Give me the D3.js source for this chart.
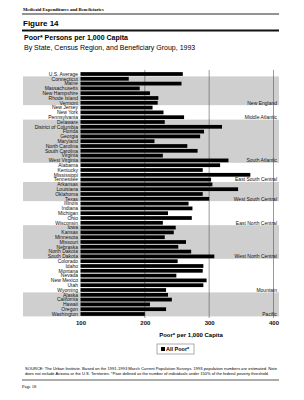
<!DOCTYPE html>
<html>
<head>
<meta charset="utf-8">
<script src="https://cdn.jsdelivr.net/npm/d3@7"></script>
<style>
    html, body { margin: 0; padding: 0; background: #fff; }
    svg { display: block; font-family: "Liberation Sans", Arial, sans-serif; }
</style>
</head>
<body>
<svg id="chart" width="304" height="400"></svg>
<script>
(function () {
    "use strict";

    // rows, top to bottom (Arizona not included)
    const states = [
        "U.S. Average",
        "Connecticut", "Maine", "Massachusetts", "New Hampshire", "Rhode Island", "Vermont",
        "New Jersey", "New York", "Pennsylvania",
        "Delaware", "District of Columbia", "Florida", "Georgia", "Maryland",
        "North Carolina", "South Carolina", "Virginia", "West Virginia",
        "Alabama", "Kentucky", "Mississippi", "Tennessee",
        "Arkansas", "Louisiana", "Oklahoma", "Texas",
        "Illinois", "Indiana", "Michigan", "Ohio", "Wisconsin",
        "Iowa", "Kansas", "Minnesota", "Missouri", "Nebraska", "North Dakota", "South Dakota",
        "Colorado", "Idaho", "Montana", "Nevada", "New Mexico", "Utah", "Wyoming",
        "Alaska", "California", "Hawaii", "Oregon", "Washington"
    ];

    // all poor, per 1,000 capita
    const allPoor = [
        259,
        175, 257, 192, 208, 221, 220,
        212, 229, 261,
        231, 320, 292, 286, 215,
        266, 282, 228, 330,
        317, 290, 364, 303,
        305, 345, 290, 300,
        268, 274, 236, 273, 228,
        248, 245, 231, 264, 252, 272, 308,
        251, 291, 290, 249, 296, 291, 233,
        236, 242, 208, 233, 200
    ];

    const regions = [
        "New England", "Middle Atlantic", "South Atlantic", "East South Central",
        "West South Central", "East North Central", "West North Central", "Mountain", "Pacific"
    ];
    const regionSizes = [6, 3, 9, 4, 4, 5, 7, 7, 5];

    const xTicks = [100, 200, 300, 400];

    const svg = d3.select("#chart");

    const xScale = d3.scaleLinear()
        .domain([100, 400])
        .range([80.5, 273.5]);

    const yScale = d3.scaleBand()
        .domain(states)
        .range([71.6, 316.4])
        .paddingInner(0.22)
        .paddingOuter(0.11);

    // header
    svg.append("text")
        .attr("x", 23)
        .attr("y", 11)
        .attr("font-family", "Liberation Serif, serif")
        .attr("font-weight", "bold")
        .attr("font-size", 4.6)
        .text("Medicaid Expenditures and Beneficiaries");

    svg.append("line")
        .attr("x1", 22).attr("x2", 279)
        .attr("y1", 14).attr("y2", 14)
        .attr("stroke", "#111")
        .attr("stroke-width", 0.9);

    svg.append("text")
        .attr("x", 23)
        .attr("y", 26)
        .attr("font-weight", "bold")
        .attr("font-size", 8)
        .text("Figure 14");

    svg.append("line")
        .attr("x1", 22).attr("x2", 279)
        .attr("y1", 30.5).attr("y2", 30.5)
        .attr("stroke", "#111")
        .attr("stroke-width", 1.8);

    svg.append("text")
        .attr("x", 24)
        .attr("y", 40)
        .attr("font-weight", "bold")
        .attr("font-size", 7)
        .text("Poor* Persons per 1,000 Capita");

    svg.append("text")
        .attr("x", 24)
        .attr("y", 49.5)
        .attr("font-size", 7)
        .text("By State, Census Region, and Beneficiary Group, 1993");

    // shaded region bands (every other region)
    let start = 1;
    const bands = regions.map(function (name, i) {
        const first = states[start];
        const last = states[start + regionSizes[i] - 1];
        start += regionSizes[i];
        return { name: name, first: first, last: last, shaded: i % 2 === 0 };
    });

    const step = yScale.step();
    const barOffset = (step - yScale.bandwidth()) / 2;

    svg.append("g")
        .selectAll("rect")
        .data(bands.filter(function (d) { return d.shaded; }))
        .join("rect")
        .attr("x", 23)
        .attr("width", 279 - 23)
        .attr("y", function (d) { return yScale(d.first) - barOffset; })
        .attr("height", function (d) { return yScale(d.last) + yScale.bandwidth() + barOffset - yScale(d.first) + barOffset; })
        .attr("fill", "#cfcfcf");

    // gridlines
    svg.append("g")
        .selectAll("line")
        .data(xTicks.slice(1))
        .join("line")
        .attr("x1", function (d) { return xScale(d); })
        .attr("x2", function (d) { return xScale(d); })
        .attr("y1", 70)
        .attr("y2", 318)
        .attr("stroke", "#555")
        .attr("stroke-width", 0.6);

    // bars
    svg.append("g")
        .selectAll("rect")
        .data(states)
        .join("rect")
        .attr("x", xScale(100))
        .attr("y", function (d) { return yScale(d); })
        .attr("width", function (d, i) { return xScale(allPoor[i]) - xScale(100); })
        .attr("height", yScale.bandwidth())
        .attr("fill", "#000");

    // state labels
    svg.append("g")
        .selectAll("text")
        .data(states)
        .join("text")
        .attr("x", 78)
        .attr("y", function (d) { return yScale(d) + yScale.bandwidth() / 2; })
        .attr("dy", "0.35em")
        .attr("text-anchor", "end")
        .attr("font-size", 5)
        .attr("fill", "#111")
        .text(function (d) { return d; });

    // region labels, at the last row of each region
    svg.append("g")
        .selectAll("text")
        .data(bands)
        .join("text")
        .attr("x", 277)
        .attr("y", function (d) { return yScale(d.last) + yScale.bandwidth() / 2; })
        .attr("dy", "0.35em")
        .attr("text-anchor", "end")
        .attr("font-size", 5)
        .attr("fill", "#111")
        .text(function (d) { return d.name; });

    // x axis
    const xAxis = d3.axisBottom(xScale)
        .tickValues(xTicks)
        .tickSize(0)
        .tickPadding(0);

    const axisG = svg.append("g")
        .attr("transform", "translate(0,321)")
        .call(xAxis);

    axisG.select(".domain").remove();
    axisG.selectAll("text")
        .attr("font-family", "Liberation Sans, Arial, sans-serif")
        .attr("font-weight", "bold")
        .attr("font-size", 6)
        .attr("fill", "#111");

    svg.append("text")
        .attr("x", 191)
        .attr("y", 337)
        .attr("text-anchor", "middle")
        .attr("font-weight", "bold")
        .attr("font-size", 6)
        .text("Poor* per 1,000 Capita");

    // legend
    const legend = svg.append("g").attr("transform", "translate(157,344)");
    legend.append("rect")
        .attr("width", 37).attr("height", 10)
        .attr("fill", "#fff")
        .attr("stroke", "#777")
        .attr("stroke-width", 0.6);
    legend.append("rect")
        .attr("x", 4).attr("y", 3)
        .attr("width", 4).attr("height", 4)
        .attr("fill", "#000");
    legend.append("text")
        .attr("x", 9)
        .attr("y", 7.2)
        .attr("font-weight", "bold")
        .attr("font-size", 5.5)
        .text("All Poor*");

    // source note
    const notes = [
        "SOURCE: The Urban Institute.  Based on the 1991-1993 March Current Population Surveys.  1993 population numbers are estimated.  Note",
        "does not include Arizona or the U.S. Territories.  *Poor defined as the number of individuals under 150% of the federal poverty threshold."
    ];
    svg.append("g")
        .selectAll("text")
        .data(notes)
        .join("text")
        .attr("x", 25)
        .attr("y", function (d, i) { return 370 + i * 4.5; })
        .attr("font-size", 3.6)
        .attr("textLength", function (d, i) { return i === 0 ? 252 : 244; })
        .attr("lengthAdjust", "spacingAndGlyphs")
        .text(function (d) { return d; });

    svg.append("line")
        .attr("x1", 22).attr("x2", 279)
        .attr("y1", 380).attr("y2", 380)
        .attr("stroke", "#111")
        .attr("stroke-width", 0.7);

    svg.append("text")
        .attr("x", 22)
        .attr("y", 388)
        .attr("font-family", "Liberation Serif, serif")
        .attr("font-size", 4.5)
        .text("Page 18");
}());
</script>
</body>
</html>
